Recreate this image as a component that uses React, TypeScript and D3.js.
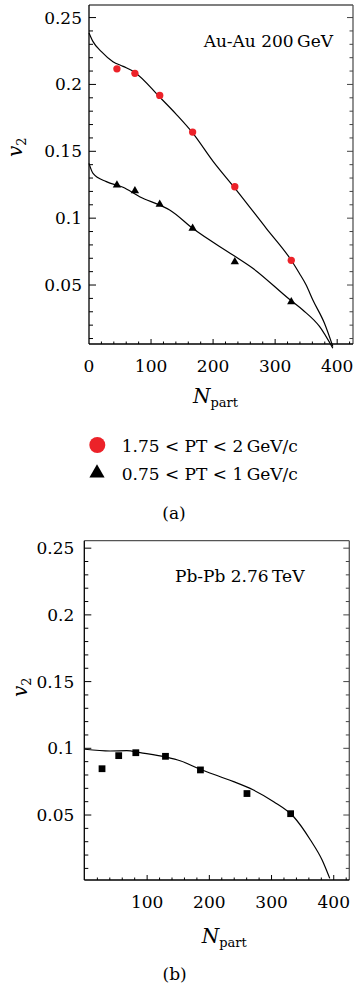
import * as d3 from 'd3';
import * as React from 'react';

// tick labels
const xTicksA = [0, 100, 200, 300, 400];
const xTicksB = [100, 200, 300, 400];
const yTicks = [0.05, 0.1, 0.15, 0.2, 0.25];

// Au-Au 200 GeV, measured points (Npart, v2)
const auHighPts: [number, number][] = [
    [45, 0.2117], [74, 0.2083], [114, 0.1918], [167, 0.1644], [235, 0.1235], [326, 0.0685],
];
const auLowPts: [number, number][] = [
    [45, 0.1248], [74, 0.1205], [114, 0.1104], [167, 0.0924], [235, 0.0674], [326, 0.0375],
];

// Au-Au model curves
const auHighCurve: [number, number][] = [
    [0, 0.2385], [6.5, 0.232], [20, 0.2245], [38.6, 0.217], [55, 0.2135], [74, 0.209],
    [114, 0.1905], [140, 0.178], [167, 0.1638], [200, 0.1425], [235, 0.1225], [285.7, 0.0924],
    [326, 0.0685], [339, 0.0588], [350, 0.05], [360.8, 0.0388], [379.5, 0.0214], [393, 0.004],
];
const auLowCurve: [number, number][] = [
    [0, 0.141], [6.5, 0.1335], [28, 0.1273], [54.8, 0.1231], [70.9, 0.119], [81.6, 0.116],
    [114, 0.1098], [130, 0.1061], [167, 0.0924], [232, 0.0724], [264, 0.0625],
    [323, 0.0393], [344.6, 0.0313], [371.5, 0.019], [393, 0.0027],
];

// Pb-Pb 2.76 TeV
const pbPts: [number, number][] = [
    [27.5, 0.0847], [54.3, 0.0945], [81.8, 0.0967], [129.5, 0.094], [185.7, 0.0838], [260.5, 0.0661], [330.7, 0.051],
];
const pbCurve: [number, number][] = [
    [0, 0.0993], [40.4, 0.098], [67.3, 0.0982], [88.7, 0.0967], [131.7, 0.0933], [153, 0.0907],
    [185.3, 0.0843], [217.5, 0.0787], [239, 0.075], [271, 0.0687], [303.4, 0.06],
    [335.6, 0.0487], [362.5, 0.0313], [381.3, 0.0163], [393.6, 0.0025],
];

const legendLabels = ['1.75 < PT < 2\u2009GeV/c', '0.75 < PT < 1\u2009GeV/c'];

const red = '#ec2229';
const font = '"DejaVu Serif", serif';

const minorX = d3.range(20, 425, 20);
const minorY = d3.range(1, 26).map((d) => d / 100);

interface PanelProps {
    x: d3.ScaleLinear<number, number>;
    y: d3.ScaleLinear<number, number>;
    xTicks: number[];
    labelGap: number;
}

function Frame({x, y, xTicks, labelGap}: PanelProps) {
    const [l, r] = x.range();
    const [b, t] = y.range();
    return (
        <g>
            <line x1={l} x2={r} y1={t} y2={t} stroke='#555' strokeWidth={1.3} />
            <line x1={r} x2={r} y1={t} y2={b} stroke='#555' strokeWidth={1.3} />
            <line x1={l} x2={l} y1={t} y2={b} stroke='black' strokeWidth={1.3} />
            <line x1={l} x2={r} y1={b} y2={b} stroke='black' strokeWidth={1.3} />
            {minorX.map((v) => {
                const major = v % 100 === 0;
                return <line key={'x' + v} x1={x(v)} x2={x(v)} y1={b} y2={b - (major ? 5 : 2.5)} stroke='black' />;
            })}
            {minorY.filter((v) => y(v) < b && y(v) > t).map((v) => {
                const major = Math.round(v * 100) % 5 === 0;
                return (
                    <g key={'y' + v}>
                        <line x1={l} x2={l + (major ? 7 : 4)} y1={y(v)} y2={y(v)} stroke='black' />
                        <line x1={r} x2={r - (major ? 6 : 3.5)} y1={y(v)} y2={y(v)} stroke='#444' />
                    </g>
                );
            })}
            {xTicks.map((v) => (
                <text key={'xl' + v} x={x(v)} y={b + 28} textAnchor='middle' fontSize={17}>{v}</text>
            ))}
            {yTicks.map((v) => (
                <text key={'yl' + v} x={l - labelGap} y={y(v) + 6} textAnchor='end' fontSize={17}>{v}</text>
            ))}
        </g>
    );
}

const circle = d3.symbol(d3.symbolCircle, 42)();
const tri = d3.symbol(d3.symbolTriangle, 30)();
const sq = d3.symbol(d3.symbolSquare, 46)();

export default function App() {
    const xa = d3.scaleLinear().domain([0, 425.5]).range([89, 353]);
    const ya = d3.scaleLinear().domain([0.0059, 0.2594]).range([344, 5]);
    const xb = d3.scaleLinear().domain([-1, 425]).range([84.3, 349.3]);
    const yb = d3.scaleLinear().domain([0.0013, 0.2556]).range([880, 540.7]);

    const lineA = d3.line<[number, number]>().x((d) => xa(d[0])).y((d) => ya(d[1])).curve(d3.curveMonotoneX);
    const lineB = d3.line<[number, number]>().x((d) => xb(d[0])).y((d) => yb(d[1])).curve(d3.curveMonotoneX);

    return (
        <svg width={354} height={989} style={{position: 'absolute', left: 0, top: 0}} fontFamily={font}>
            <rect width={354} height={989} fill='white' />

            {/* panel (a) */}
            <Frame x={xa} y={ya} xTicks={xTicksA} labelGap={7} />
            <path d={lineA(auHighCurve) || ''} fill='none' stroke='black' strokeWidth={1.2} />
            <path d={lineA(auLowCurve) || ''} fill='none' stroke='black' strokeWidth={1.2} />
            {auHighPts.map((d, i) => (
                <path key={'h' + i} d={circle || ''} transform={`translate(${xa(d[0])},${ya(d[1])})`} fill={red} />
            ))}
            {auLowPts.map((d, i) => (
                <path key={'l' + i} d={tri || ''} transform={`translate(${xa(d[0])},${ya(d[1])})`} fill='black' />
            ))}
            <text x={333} y={47} textAnchor='end' fontSize={17}>Au-Au 200{'\u2009'}GeV</text>
            <text x={193} y={403}>
                <tspan fontStyle='italic' fontSize={20}>N</tspan>
                <tspan fontSize={13} dy={4}>part</tspan>
            </text>
            <text transform='translate(22,157) rotate(-90)'>
                <tspan fontStyle='italic' fontSize={20}>v</tspan>
                <tspan fontSize={13} dy={4}>2</tspan>
            </text>

            {/* legend */}
            <circle cx={97.3} cy={445} r={8} fill={red} />
            <path d={d3.symbol(d3.symbolTriangle, 100)() || ''} transform='translate(97,473)' fill='black' />
            {legendLabels.map((t, i) => (
                <text key={t} x={121.7} y={451.7 + i * 28.3} fontSize={17}>{t}</text>
            ))}
            <text x={174} y={519} textAnchor='middle' fontSize={17}>(a)</text>

            {/* panel (b) */}
            <Frame x={xb} y={yb} xTicks={xTicksB} labelGap={10} />
            <path d={lineB(pbCurve) || ''} fill='none' stroke='black' strokeWidth={1.2} />
            {pbPts.map((d, i) => (
                <path key={'p' + i} d={sq || ''} transform={`translate(${xb(d[0])},${yb(d[1])})`} fill='black' />
            ))}
            <text x={175} y={582} fontSize={17}>Pb-Pb 2.76{'\u2009'}TeV</text>
            <text x={201.7} y={942.7}>
                <tspan fontStyle='italic' fontSize={20}>N</tspan>
                <tspan fontSize={13} dy={4}>part</tspan>
            </text>
            <text transform='translate(26.5,697) rotate(-90)'>
                <tspan fontStyle='italic' fontSize={20}>v</tspan>
                <tspan fontSize={13} dy={4}>2</tspan>
            </text>
            <text x={174.7} y={980} textAnchor='middle' fontSize={17}>(b)</text>
        </svg>
    );
}
